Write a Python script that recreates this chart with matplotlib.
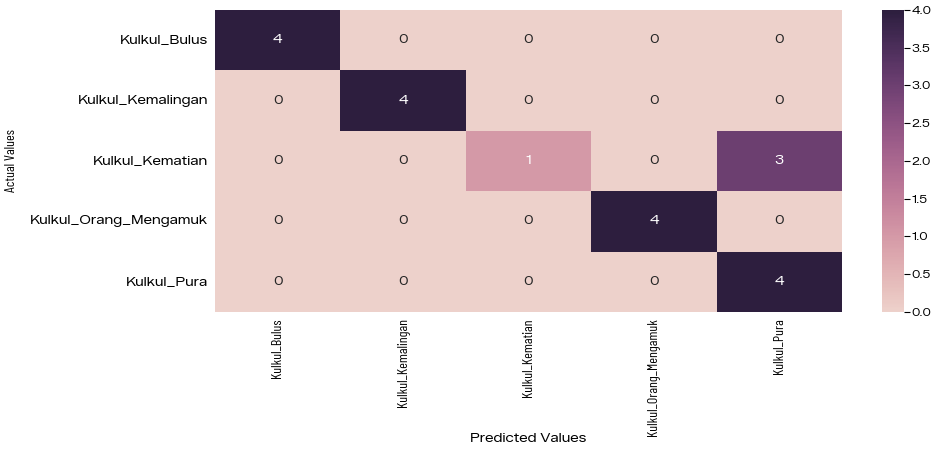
import numpy as np
import matplotlib
matplotlib.use("Agg")
import matplotlib.pyplot as plt
import seaborn as sns

labels = ["Kulkul_Bulus", "Kulkul_Kemalingan", "Kulkul_Kematian",
          "Kulkul_Orang_Mengamuk", "Kulkul_Pura"]

cm = np.array([
    [4, 0, 0, 0, 0],
    [0, 4, 0, 0, 0],
    [0, 0, 1, 0, 3],
    [0, 0, 0, 4, 0],
    [0, 0, 0, 0, 4],
])

wide = ['Zalando Sans SemiExpanded', 'DejaVu Sans']
narrow = ['Barlow Condensed', 'DejaVu Sans']
plt.rcParams['font.family'] = wide

fig = plt.figure(figsize=(9.32, 4.5), dpi=100)
ax = fig.add_axes([0.2307, 0.3067, 0.6727, 0.6711])
cax = fig.add_axes([0.9464, 0.3067, 0.0236, 0.6711])

cmap = sns.cubehelix_palette(as_cmap=True)
sns.heatmap(cm, annot=True, fmt="d", cmap=cmap, ax=ax, cbar_ax=cax,
            xticklabels=labels, yticklabels=labels,
            annot_kws={"fontsize": 9.5})

ax.tick_params(axis='y', labelsize=9.8, length=0, pad=5)
ax.tick_params(axis='x', length=0, pad=4.5)
for t in ax.get_yticklabels():
    t.set_rotation(0)
for t in ax.get_xticklabels():
    t.set_rotation(90)
    t.set_fontfamily(narrow)
    t.set_fontsize(10)

ax.set_xlabel("Predicted Values", fontsize=9.8)
ax.xaxis.set_label_coords(0.5, -0.40)
ax.set_ylabel("Actual Values", fontsize=10, family=narrow)
ax.yaxis.set_label_coords(-0.314, 0.5)

cax.tick_params(labelsize=8.3, length=4, width=0.8, pad=1.5)
cax.set_yticks(np.arange(0, 4.01, 0.5))

fig.savefig("out.png", dpi=100)
